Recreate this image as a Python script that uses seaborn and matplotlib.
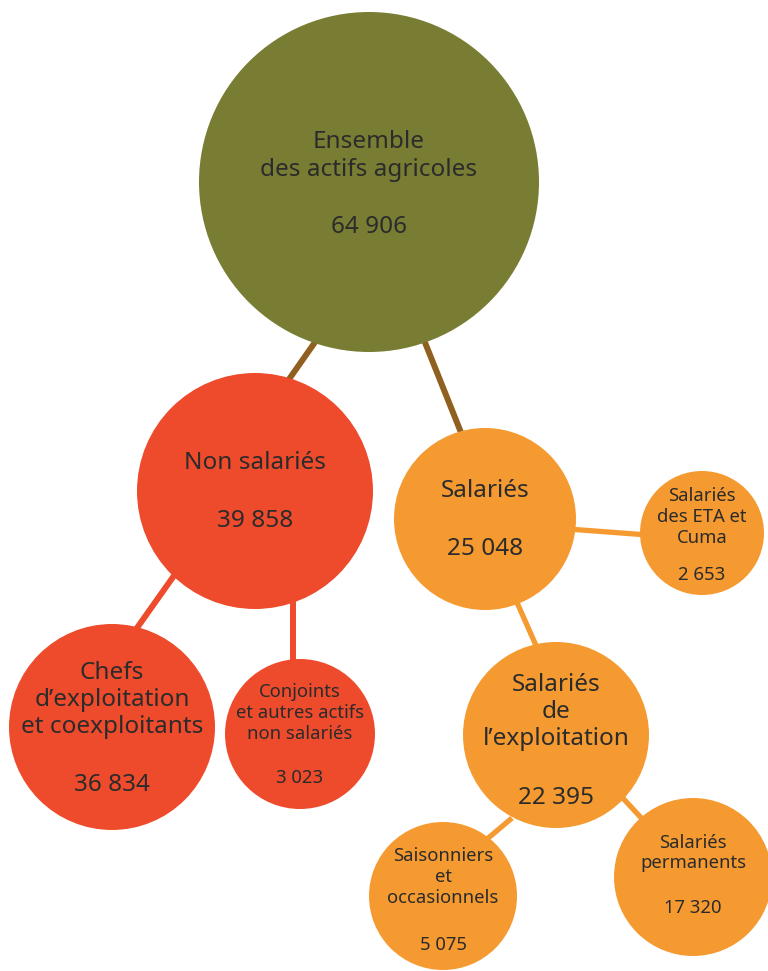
import matplotlib
matplotlib.use('Agg')
import matplotlib.pyplot as plt
import seaborn as sns
import pandas as pd

# ---- data -------------------------------------------------------------
labels = [
    "Ensemble\ndes actifs agricoles",
    "Non salariés",
    "Salariés",
    "Salariés\ndes ETA et\nCuma",
    "Chefs\nd’exploitation\net coexploitants",
    "Conjoints\net autres actifs\nnon salariés",
    "Salariés\nde\nl’exploitation",
    "Saisonniers\net\noccasionnels",
    "Salariés\npermanents",
]
values = [64906, 39858, 25048, 2653, 36834, 3023, 22395, 5075, 17320]
groups = ["total", "non", "sal", "sal", "non", "non", "sal", "sal", "sal"]
parents = [None, 0, 0, 2, 1, 1, 2, 6, 6]

# ---- layout (pixels, origin top-left) --------------------------------
node_x = [369, 255, 485, 702, 112, 300, 556, 443, 693]
node_y = [182, 491, 519, 533, 727, 734, 735, 896, 877]
node_r = [170, 118, 91, 62, 103, 75, 93, 74, 79]
label_y = [156, 463, 491, 517, 700, 713, 712, 877, 853]
value_y = [227, 521, 549, 575, 785, 778, 798, 945, 908]
font_sz = [17.5, 17.5, 17.5, 13.3, 17.5, 13.3, 17.5, 13.3, 13.3]
# connector segments: child index -> (x0, y0, x1, y1)
links = {
    1: (320, 335, 285, 385),
    2: (420, 330, 462, 435),
    3: (568, 529, 648, 535),
    4: (178, 570, 132, 635),
    5: (293, 600, 293, 665),
    6: (515, 598, 538, 650),
    7: (512, 818, 480, 845),
    8: (620, 795, 645, 822),
}

colors = {"total": "#797d33", "non": "#ee4b2c", "sal": "#f59a30"}
link_colors = {"total": "#8f601f", "non": "#ee4b2c", "sal": "#f59a30"}
text_color = "#2b2b2b"

sns.set_theme(style="white")
plt.rcParams['font.family'] = ['Noto Sans', 'DejaVu Sans']

df = pd.DataFrame({
    "x": node_x, "y": node_y, "r": node_r,
    "label": labels, "value": values, "group": groups,
})
# marker area in pt^2 : 1 px = 0.72 pt at dpi 100
df["area"] = (2 * df["r"] * 0.72) ** 2

fig = plt.figure(figsize=(7.68, 9.71), dpi=100)
ax = fig.add_axes([0, 0, 1, 1])

# connectors behind the bubbles
for child, (x0, y0, x1, y1) in links.items():
    pgroup = groups[parents[child]]
    lw = 4.3 if pgroup != "sal" else 3.8
    ax.plot([x0, x1], [y0, y1], color=link_colors[pgroup], lw=lw,
            solid_capstyle="butt", zorder=1)

sns.scatterplot(
    data=df, x="x", y="y", hue="group", palette=colors,
    size="label", sizes=dict(zip(df["label"], df["area"])),
    linewidth=0, legend=False, ax=ax, zorder=2, alpha=1,
)

for i, row in df.iterrows():
    ax.text(row["x"], label_y[i], row["label"], ha="center", va="center",
            fontsize=font_sz[i], color=text_color, linespacing=1.18, zorder=3)
    val = f"{row['value']:,}".replace(",", " ")
    ax.text(row["x"], value_y[i], val, ha="center", va="center",
            fontsize=font_sz[i], color=text_color, zorder=3)

ax.set_xlim(0, 768)
ax.set_ylim(971, 0)
ax.set_axis_off()

plt.savefig("out.png", dpi=100)
plt.close()
